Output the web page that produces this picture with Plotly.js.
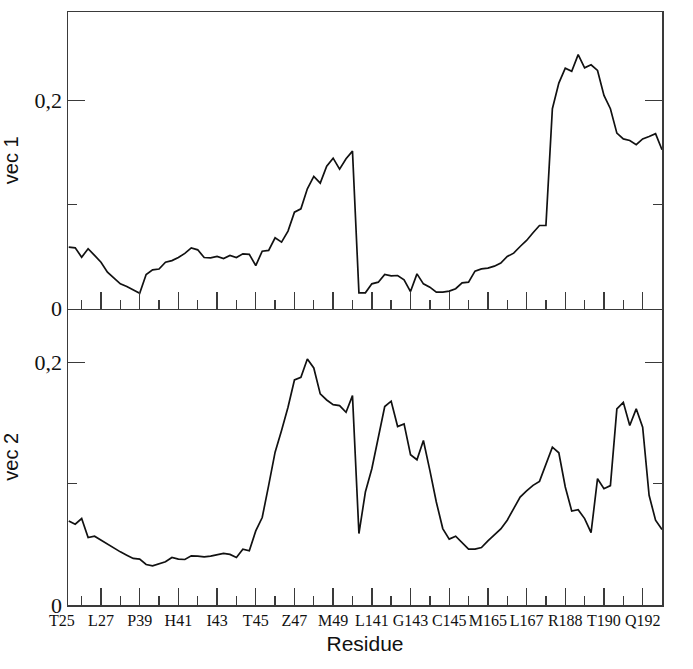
<!DOCTYPE html>
<html>
<head>
<meta charset="utf-8">
<script src="https://cdn.plot.ly/plotly-3.0.1.min.js"></script>
<style>
  html, body { margin: 0; padding: 0; background: #fff; }
  #chart { width: 693px; height: 669px; }
</style>
</head>
<body>
<div id="chart"></div>
<script>
// residue labels under the major ticks (T25 sits just left of the axis start)
const residues = ["T25", "L27", "P39", "H41", "I43", "T45", "Z47", "M49",
                  "L141", "G143", "C145", "M165", "L167", "R188", "T190", "Q192"];

// samples, 6 per residue label interval
const vec1 = [
    0.0589, 0.0583, 0.0493, 0.0574, 0.0510, 0.0445, 0.0350, 0.0295, 0.0237, 0.0212,
    0.0180, 0.0147, 0.0327, 0.0372, 0.0380, 0.0445, 0.0460, 0.0490, 0.0530, 0.0583,
    0.0564, 0.0490, 0.0487, 0.0500, 0.0480, 0.0510, 0.0490, 0.0526, 0.0520, 0.0413,
    0.0551, 0.0558, 0.0680, 0.0638, 0.0744, 0.0926, 0.0958, 0.1150, 0.1270, 0.1205,
    0.1368, 0.1445, 0.1340, 0.1440, 0.1513, 0.0151, 0.0151, 0.0237, 0.0253, 0.0327,
    0.0314, 0.0317, 0.0276, 0.0163, 0.0333, 0.0237, 0.0205, 0.0157, 0.0157, 0.0167,
    0.0190, 0.0247, 0.0253, 0.0359, 0.0381, 0.0388, 0.0407, 0.0436, 0.0500, 0.0532,
    0.0596, 0.0654, 0.0728, 0.0798, 0.0798, 0.1920, 0.2167, 0.2310, 0.2280, 0.2440,
    0.2314, 0.2343, 0.2288, 0.2048, 0.1920, 0.1686, 0.1630, 0.1615, 0.1574, 0.1630,
    0.1654, 0.1680, 0.1526
];

const vec2 = [
    0.0693, 0.0666, 0.0713, 0.0556, 0.0567, 0.0534, 0.0501, 0.0471, 0.0438, 0.0411,
    0.0384, 0.0378, 0.0334, 0.0323, 0.0342, 0.0356, 0.0392, 0.0378, 0.0375, 0.0405,
    0.0403, 0.0397, 0.0403, 0.0411, 0.0425, 0.0417, 0.0392, 0.0460, 0.0447, 0.0611,
    0.0721, 0.0986, 0.1260, 0.1439, 0.1630, 0.1855, 0.1877, 0.2028, 0.1954, 0.1740,
    0.1690, 0.1652, 0.1644, 0.1589, 0.1726, 0.0589, 0.0931, 0.1123, 0.1384, 0.1636,
    0.1680, 0.1471, 0.1493, 0.1239, 0.1197, 0.1356, 0.1110, 0.0849, 0.0630, 0.0543,
    0.0567, 0.0515, 0.0460, 0.0460, 0.0474, 0.0529, 0.0575, 0.0627, 0.0699, 0.0795,
    0.0890, 0.0940, 0.0986, 0.1019, 0.1165, 0.1301, 0.1255, 0.0973, 0.0775, 0.0786,
    0.0712, 0.0597, 0.1041, 0.0959, 0.0984, 0.1617, 0.1671, 0.1480, 0.1617, 0.1466,
    0.0904, 0.0699, 0.0622
];

const tickPos = residues.map((_, i) => i);
const serif = "Liberation Serif, Times New Roman, serif";
const sans = "Liberation Sans, Arial, sans-serif";
const axisColor = "#3a3a3a";

function lineTrace(y, xa, ya) {
    return {
        type: "scatter", mode: "lines",
        y, x0: 1 / 6, dx: 1 / 6,
        xaxis: xa, yaxis: ya,
        line: { color: "#111", width: 1.7 },
        hoverinfo: "skip", showlegend: false
    };
}

const xCommon = {
    range: [0.147, 15.5],
    tickmode: "array",
    tickvals: tickPos,
    ticktext: residues,
    ticks: "inside", ticklen: 17, tickwidth: 1.4, tickcolor: axisColor,
    minor: { tickmode: "linear", tick0: 0.5, dtick: 1, ticks: "inside", ticklen: 9, tickwidth: 1.4, tickcolor: axisColor, showgrid: false },
    showline: true, linecolor: axisColor, linewidth: 1.5,
    showgrid: false, zeroline: false
};

const yCommon = {
    dtick: 0.2, tick0: 0,
    ticks: "inside", ticklen: 17, tickwidth: 1.4, tickcolor: axisColor,
    minor: { dtick: 0.1, ticks: "inside", ticklen: 9, tickwidth: 1.4, tickcolor: axisColor, showgrid: false },
    showline: true, linecolor: axisColor, linewidth: 1.5, mirror: "ticks",
    showgrid: false, zeroline: false,
    tickfont: { family: serif, size: 22, color: "#111" }
};

const layout = {
    width: 693, height: 669,
    margin: { l: 68, r: 31, t: 12, b: 64 },
    paper_bgcolor: "#fff", plot_bgcolor: "#fff",
    separators: ",.",
    xaxis: Object.assign({}, xCommon, {
        anchor: "y", mirror: false,
        tickfont: { family: serif, size: 16, color: "#111" },
        title: { text: "Residue", font: { family: sans, size: 21, color: "#111" }, standoff: 8 }
    }),
    xaxis2: Object.assign({}, xCommon, { anchor: "y2", matches: "x", mirror: true, showticklabels: false }),
    yaxis: Object.assign({}, yCommon, {
        domain: [0, 0.5], range: [0, 0.2444],
        title: { text: "vec 2", font: { family: sans, size: 20, color: "#111" }, standoff: 12 }
    }),
    yaxis2: Object.assign({}, yCommon, {
        domain: [0.5, 1], range: [0, 0.285],
        title: { text: "vec 1", font: { family: sans, size: 20, color: "#111" }, standoff: 12 }
    }),
    annotations: [{
        // first residue label falls left of the visible x range
        text: residues[0], xref: "paper", yref: "paper", x: 0, y: 0,
        xanchor: "center", yanchor: "top", xshift: -6, yshift: -5,
        showarrow: false, font: { family: serif, size: 16, color: "#111" }
    }]
};

Plotly.newPlot("chart", [lineTrace(vec1, "x2", "y2"), lineTrace(vec2, "x", "y")], layout,
    { displayModeBar: false, staticPlot: true });
</script>
</body>
</html>
